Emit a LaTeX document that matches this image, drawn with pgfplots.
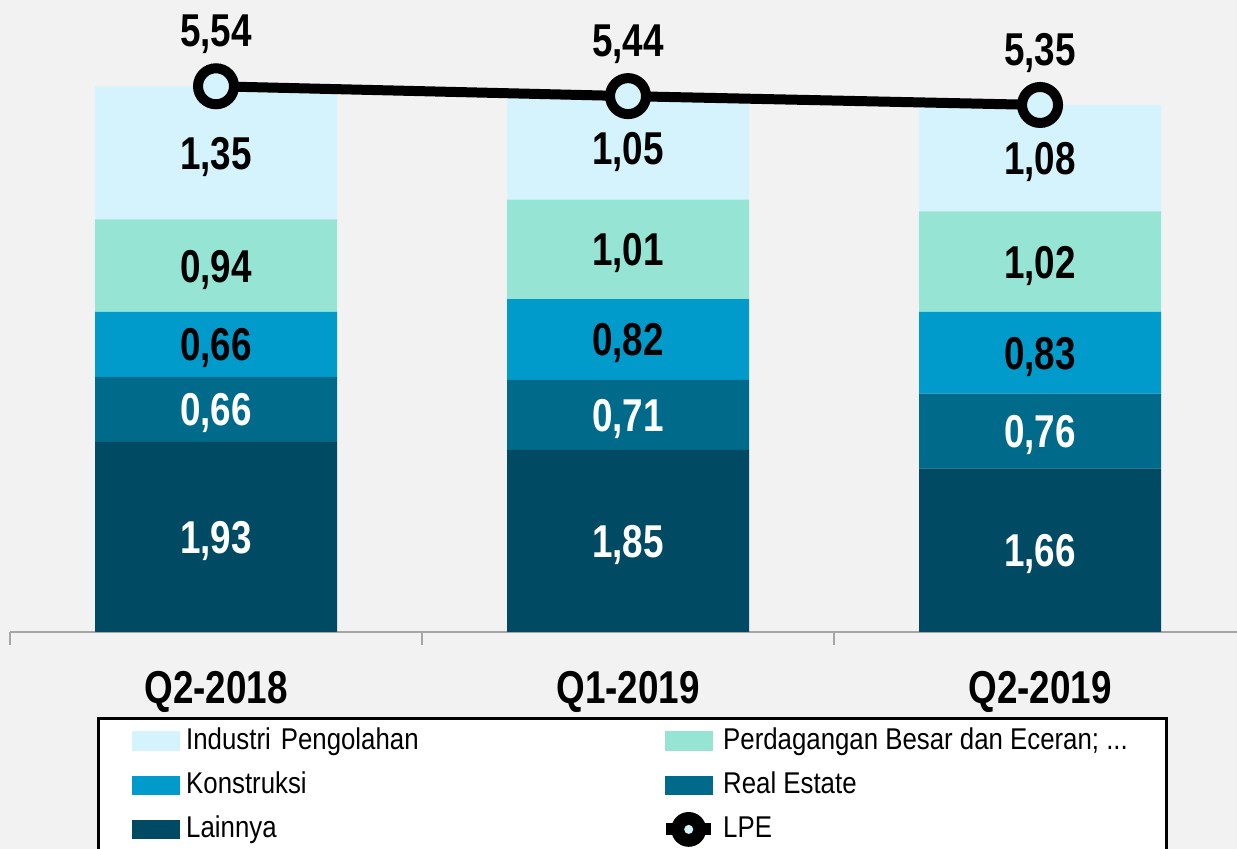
\documentclass[border=0pt]{standalone}
\usepackage{fontspec}
\setmainfont{Liberation Sans}[FakeStretch=0.8]
\newfontfamily\legfont{Liberation Sans}[FakeStretch=0.86]
\usepackage{pgfplots}
\pgfplotsset{compat=1.18}
\definecolor{bg}{HTML}{F2F2F2}
\definecolor{cInd}{HTML}{D5F3FC}
\definecolor{cPer}{HTML}{96E5D4}
\definecolor{cKon}{HTML}{009BCB}
\definecolor{cRE}{HTML}{006A8A}
\definecolor{cLain}{HTML}{004B63}
\definecolor{axgray}{HTML}{A6A6A6}
\pgfplotsset{
  common/.style={
    scale only axis, width=12.27cm, height=6.32cm,
    xmin=-0.5, xmax=2.478, ymin=0, ymax=6.416,
    at={(0.1cm,2.17cm)}, anchor=south west,
    /pgf/number format/use comma,
    /pgf/number format/fixed,
    /pgf/number format/fixed zerofill,
    /pgf/number format/precision=2,
    /pgf/number format/assume math mode=true,
  },
}
\newcommand{\lblfont}{\fontsize{13.1pt}{15pt}\selectfont\bfseries}
\begin{document}
\begin{tikzpicture}
\fill[bg] (0,0) rectangle (12.37,8.49);
\useasboundingbox (0,0) rectangle (12.37,8.49);
\begin{axis}[common,
  ybar stacked, bar width=2.42cm,
  axis y line=none, axis x line*=bottom,
  axis line style={axgray, line width=0.6pt},
  xtick={0,1,2}, xticklabels={Q2-2018,Q1-2019,Q2-2019},
  major tick length=0pt,
  x tick label style={font=\lblfont, anchor=center, yshift=-0.60cm},
  extra x ticks={-0.5,0.5,1.5}, extra x tick labels={},
  extra x tick style={major tick length=0.13cm, tick align=outside, tick style={axgray, line width=0.6pt}},
  nodes near coords={\pgfmathprintnumber{\rawy}},
  visualization depends on=rawy \as \rawy,
  every node near coord/.append style={anchor=center, yshift=-0.04cm, font=\lblfont},
  legend columns=2,
  legend cell align=left,
  legend style={at={(0.0709,-0.1345)}, anchor=north west, fill=white, draw=black, line width=0.8pt,
    inner xsep=0.34cm, inner ysep=0.01cm,
    font=\legfont\fontsize{8.54pt}{10pt}\selectfont,
    nodes={text height=0.22cm, text depth=0.05cm, inner xsep=0.05cm, inner ysep=0.085cm},
    column sep=0.01cm, row sep=0pt,
    /tikz/column 2/.style={nodes={text width=4.6cm, align=left}, column sep=0.09cm}},
]
\addplot[forget plot, fill=cLain, draw=none, every node near coord/.append style={text=white}] coordinates {(0,1.93) (1,1.85) (2,1.66)};
\addplot[forget plot, fill=cRE, draw=none, every node near coord/.append style={text=white}] coordinates {(0,0.66) (1,0.71) (2,0.76)};
\addplot[forget plot, fill=cKon, draw=none] coordinates {(0,0.66) (1,0.82) (2,0.83)};
\addplot[forget plot, fill=cPer, draw=none] coordinates {(0,0.94) (1,1.01) (2,1.02)};
\addplot[forget plot, fill=cInd, draw=none] coordinates {(0,1.35) (1,1.05) (2,1.08)};
\addlegendimage{legend image code/.code={\fill[cInd] (0cm,-0.085cm) rectangle (0.45cm,0.085cm);}}
\addlegendentry{Industri Pengolahan}
\addlegendimage{legend image code/.code={\fill[cPer] (0cm,-0.085cm) rectangle (0.45cm,0.085cm);}}
\addlegendentry{Perdagangan Besar dan Eceran; ...}
\addlegendimage{legend image code/.code={\fill[cKon] (0cm,-0.085cm) rectangle (0.45cm,0.085cm);}}
\addlegendentry{Konstruksi}
\addlegendimage{legend image code/.code={\fill[cRE] (0cm,-0.085cm) rectangle (0.45cm,0.085cm);}}
\addlegendentry{Real Estate}
\addlegendimage{legend image code/.code={\fill[cLain] (0cm,-0.085cm) rectangle (0.45cm,0.085cm);}}
\addlegendentry{Lainnya}
\addlegendimage{legend image code/.code={\draw[black, line width=0.12cm] (0cm,0cm) -- (0.45cm,0cm); \fill[black] (0.225cm,0cm) circle (0.16cm); \fill[cInd] (0.225cm,0cm) circle (0.03cm);}}
\addlegendentry{LPE}
\end{axis}
\begin{axis}[common, hide axis, clip=false,
  nodes near coords, point meta=y,
  every node near coord/.append style={anchor=center, yshift=0.52cm, font=\lblfont, text=black},
]
\addplot[black, line width=0.1cm, mark=*, mark size=0.18cm, mark options={fill=cInd, draw=black, line width=0.1cm}] coordinates {(0,5.54) (1,5.44) (2,5.35)};
\end{axis}
\end{tikzpicture}
\end{document}
